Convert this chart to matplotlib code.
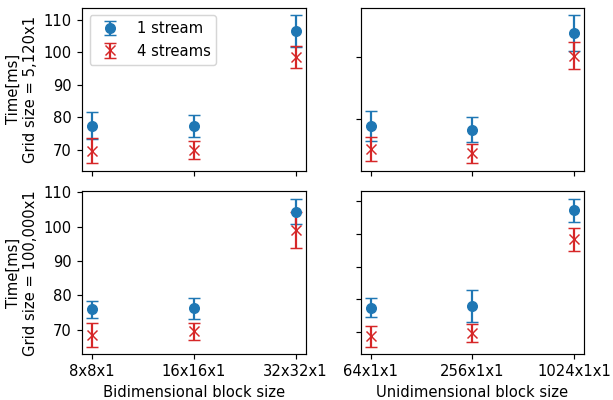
import matplotlib
matplotlib.use("Agg")
import matplotlib.pyplot as plt

# block size categories per column
bi_blocks = ["8x8x1", "16x16x1", "32x32x1"]
uni_blocks = ["64x1x1", "256x1x1", "1024x1x1"]
grid_labels = ["Time[ms]\nGrid size = 5,120x1", "Time[ms]\nGrid size = 100,000x1"]

# mean times [ms] and std, grid 5,120x1
bi_1s_small = [77.5, 77.4, 106.5]
bi_1s_small_err = [4.2, 3.3, 4.8]
bi_4s_small = [69.8, 70.0, 98.6]
bi_4s_small_err = [3.8, 2.7, 3.4]
uni_1s_small = [77.9, 76.7, 107.5]
uni_1s_small_err = [4.8, 3.9, 5.7]
uni_4s_small = [70.6, 69.1, 100.3]
uni_4s_small_err = [3.8, 3.1, 4.3]

# grid 100,000x1
bi_1s_large = [76.0, 76.2, 104.4]
bi_1s_large_err = [2.5, 3.1, 3.7]
bi_4s_large = [68.6, 69.5, 99.1]
bi_4s_large_err = [3.5, 2.6, 5.2]
uni_1s_large = [77.4, 78.0, 107.2]
uni_1s_large_err = [2.95, 5.0, 3.5]
uni_4s_large = [68.7, 69.8, 98.3]
uni_4s_large_err = [3.15, 2.7, 3.55]

panels = [
    [(bi_blocks, bi_1s_small, bi_1s_small_err, bi_4s_small, bi_4s_small_err),
     (uni_blocks, uni_1s_small, uni_1s_small_err, uni_4s_small, uni_4s_small_err)],
    [(bi_blocks, bi_1s_large, bi_1s_large_err, bi_4s_large, bi_4s_large_err),
     (uni_blocks, uni_1s_large, uni_1s_large_err, uni_4s_large, uni_4s_large_err)],
]

DPI = 106
fig, axes = plt.subplots(2, 2, figsize=(613 / DPI, 400 / DPI), dpi=DPI, sharex="col")
fig.subplots_adjust(left=0.134, right=0.953, top=0.98, bottom=0.115,
                    wspace=0.246, hspace=0.129)

for r in range(2):
    for c in range(2):
        ax = axes[r, c]
        cats, y1, e1, y4, e4 = panels[r][c]
        x = range(len(cats))
        ax.errorbar(x, y1, yerr=e1, fmt="o", color="tab:blue", capsize=4,
                    markersize=6.5, label="1 stream")
        ax.errorbar(x, y4, yerr=e4, fmt="x", color="tab:red", capsize=4,
                    markersize=6.5, label="4 streams")
        ax.set_xticks(list(x))
        if r == 1:
            ax.set_xticklabels(cats)
        if c == 0:
            ax.set_ylabel(grid_labels[r])
        else:
            ax.set_yticklabels([])

axes[1, 0].set_xlabel("Bidimensional block size")
axes[1, 1].set_xlabel("Unidimensional block size")
axes[0, 0].legend(loc="upper left")

fig.savefig("out.png", dpi=DPI)
plt.close(fig)
